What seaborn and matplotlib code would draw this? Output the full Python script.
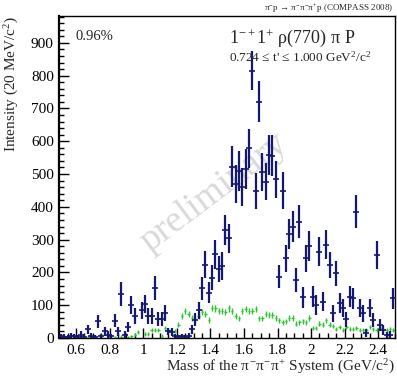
import matplotlib
matplotlib.use("Agg")
import matplotlib.pyplot as plt
import matplotlib.ticker as mticker
import pandas as pd
import seaborn as sns

# blue: 1-+1+ rho(770) pi P wave intensity
blue_mass = [0.51, 0.53, 0.55, 0.57, 0.59, 0.61, 0.63, 0.65, 0.67, 0.69,
             0.71, 0.73, 0.75, 0.77, 0.79, 0.81, 0.83, 0.85, 0.87, 0.89,
             0.91, 0.93, 0.95, 0.99, 1.01, 1.03, 1.05, 1.07, 1.09, 1.11,
             1.13, 1.15, 1.17, 1.19, 1.21, 1.23, 1.25, 1.27, 1.29, 1.31,
             1.33, 1.35, 1.37, 1.39, 1.41, 1.43, 1.45, 1.47, 1.49, 1.51,
             1.53, 1.55, 1.57, 1.59, 1.61, 1.63, 1.65, 1.67, 1.69, 1.71,
             1.73, 1.75, 1.77, 1.79, 1.81, 1.83, 1.85, 1.87, 1.89, 1.91,
             1.93, 1.95, 1.97, 1.99, 2.01, 2.03, 2.05, 2.07, 2.09, 2.11,
             2.13, 2.15, 2.17, 2.19, 2.21, 2.23, 2.25, 2.27, 2.29, 2.31,
             2.33, 2.35, 2.37, 2.39, 2.41, 2.43, 2.45, 2.47, 2.49]
blue_val = [5, 4, 3, 7, 5, 3, 10, 4, 27, 7,
            3, 51, 5, 20, 10, 5, 53, 20, 135, 10,
            34, 100, 68, 85, 104, 68, 68, 153, 58, 58,
            76, 20, 17, 5, 3, 5, 3, 7, 27, 56,
            85, 151, 224, 138, 184, 255, 210, 220, 329, 304,
            523, 470, 509, 460, 515, 578, 815, 448, 721, 505,
            477, 558, 556, 484, 187, 449, 243, 317, 340, 177,
            355, 124, 243, 280, 126, 101, 263, 111, 284, 223,
            75, 197, 106, 91, 57, 126, 121, 385, 91, 76,
            15, 91, 55, 253, 40, 25, 8, 10, 121]
blue_err = [8, 8, 6, 9, 8, 6, 10, 7, 14, 9,
            6, 19, 8, 13, 10, 8, 19, 13, 36, 10,
            16, 28, 24, 26, 28, 24, 24, 36, 20, 20,
            24, 12, 12, 8, 6, 8, 6, 8, 14, 20,
            26, 34, 40, 32, 38, 44, 40, 42, 45, 45,
            64, 58, 60, 58, 60, 60, 60, 55, 62, 58,
            56, 62, 62, 56, 36, 56, 42, 46, 48, 38,
            50, 32, 42, 46, 32, 30, 44, 30, 44, 40,
            26, 38, 30, 28, 22, 32, 32, 50, 28, 26,
            12, 28, 22, 44, 18, 15, 10, 10, 32]

# green: second curve (lower intensity)
green_mass = [0.51, 0.55, 0.59, 0.63, 0.67, 0.71, 0.75, 0.79, 0.83, 0.87,
              0.91, 0.93, 0.95, 0.97, 1.01, 1.03, 1.05, 1.07, 1.09, 1.11,
              1.13, 1.15, 1.17, 1.19, 1.21, 1.23, 1.25, 1.27, 1.29, 1.31,
              1.33, 1.35, 1.37, 1.39, 1.41, 1.43, 1.45, 1.47, 1.49, 1.51,
              1.53, 1.55, 1.57, 1.59, 1.61, 1.63, 1.65, 1.67, 1.69, 1.71,
              1.73, 1.75, 1.77, 1.79, 1.81, 1.83, 1.85, 1.87, 1.89, 1.91,
              1.93, 1.95, 1.97, 1.99, 2.01, 2.03, 2.05, 2.07, 2.09, 2.11,
              2.13, 2.15, 2.17, 2.19, 2.21, 2.23, 2.25, 2.27, 2.29, 2.31,
              2.33, 2.35, 2.37, 2.39, 2.41, 2.43, 2.45, 2.47, 2.49]
green_val = [2, 2, 3, 2, 3, 2, 3, 2, 3, 4,
             3, 5, 10, 17, 12, 12, 23, 23, 25, 7,
             30, 23, 13, 20, 41, 66, 82, 74, 60, 58,
             66, 78, 73, 55, 91, 90, 83, 83, 78, 90,
             81, 66, 60, 83, 89, 83, 83, 89, 60, 60,
             74, 71, 71, 61, 54, 48, 51, 61, 61, 44,
             48, 51, 48, 61, 31, 31, 44, 41, 54, 41,
             36, 27, 34, 25, 34, 27, 27, 31, 23, 25,
             25, 34, 27, 25, 31, 25, 25, 27, 23]
green_err = [3, 3, 3, 3, 3, 3, 3, 3, 3, 4,
             4, 4, 5, 6, 5, 5, 6, 6, 6, 4,
             7, 6, 5, 6, 8, 9, 10, 9, 9, 9,
             9, 9, 9, 8, 10, 10, 9, 9, 9, 10,
             9, 9, 8, 9, 10, 9, 9, 10, 8, 8,
             9, 9, 9, 8, 8, 8, 8, 8, 8, 7,
             7, 8, 7, 8, 6, 6, 7, 7, 8, 7,
             7, 6, 6, 6, 6, 6, 6, 6, 6, 6,
             6, 6, 6, 6, 6, 6, 6, 6, 6]

x_ticks = [0.6, 0.8, 1.0, 1.2, 1.4, 1.6, 1.8, 2.0, 2.2, 2.4]
x_labels = ["0.6", "0.8", "1", "1.2", "1.4", "1.6", "1.8", "2", "2.2", "2.4"]

BLUE = "#14186e"
GREEN = "#2fc42f"

sns.set_style("ticks")
plt.rcParams["font.family"] = ["Liberation Serif", "DejaVu Serif"]
# upright Times-like maths, like ROOT's TLatex
plt.rcParams["mathtext.fontset"] = "custom"
plt.rcParams["mathtext.rm"] = "Liberation Serif"
plt.rcParams["mathtext.it"] = "Liberation Serif"
plt.rcParams["mathtext.bf"] = "Liberation Serif:bold"

df_blue = pd.DataFrame({"mass": blue_mass, "intensity": blue_val, "err": blue_err})
df_green = pd.DataFrame({"mass": green_mass, "intensity": green_val, "err": green_err})

fig = plt.figure(figsize=(3.97, 3.78), dpi=100)
ax = fig.add_axes([0.1494, 0.1058, 0.8456, 0.8519])

# green points
ax.errorbar(df_green["mass"], df_green["intensity"], yerr=df_green["err"], xerr=0.007,
            fmt="none", ecolor=GREEN, elinewidth=1.0, capsize=0)
# blue points
ax.errorbar(df_blue["mass"], df_blue["intensity"], yerr=df_blue["err"],
            fmt="none", ecolor=BLUE, elinewidth=1.6, capsize=0)
sns.scatterplot(data=df_blue, x="mass", y="intensity", marker="_", s=14,
                color=BLUE, linewidth=1.2, ax=ax, zorder=5)

ax.set_xlim(0.5, 2.5)
ax.set_ylim(0, 982)
ax.set_xticks(x_ticks)
ax.set_xticklabels(x_labels)
ax.xaxis.set_minor_locator(mticker.MultipleLocator(0.05))
ax.yaxis.set_major_locator(mticker.MultipleLocator(100))
ax.yaxis.set_minor_locator(mticker.MultipleLocator(20))
ax.tick_params(which="both", direction="in", top=False, right=False,
               labelsize=11, width=1.0, colors="black")
ax.tick_params(which="major", length=7, pad=4)
ax.tick_params(which="minor", length=3.5)
for s in ax.spines.values():
    s.set_linewidth(1.0)
    s.set_color("black")
ax.spines["left"].set_linewidth(1.6)

ax.set_xlabel(r"Mass of the $\pi^{-}\pi^{-}\pi^{+}$ System (GeV/c$^{2}$)",
              fontsize=11, loc="right", labelpad=1)
ax.set_ylabel(r"Intensity (20 MeV/c$^{2}$)", fontsize=11, loc="top", labelpad=7)

ax.text(0.048, 0.955, "0.96%", transform=ax.transAxes, fontsize=10.5, va="top")
ax.text(0.505, 0.965, r"1$^{-+}$1$^{+}$ ρ(770) π P", transform=ax.transAxes,
        fontsize=13, va="top")
ax.text(0.505, 0.893, r"0.724 ≤ t' ≤ 1.000 GeV$^{2}$/c$^{2}$",
        transform=ax.transAxes, fontsize=9.5, va="top")
fig.text(0.99, 0.995, r"$\pi^{-}$p → $\pi^{-}\pi^{-}\pi^{+}$p (COMPASS 2008)",
         fontsize=6.5, ha="right", va="top")
ax.text(0.461, 0.45, "preliminary", transform=ax.transAxes, fontsize=27,
        color="#d9d9d9", rotation=37, ha="center", va="center", zorder=0)

fig.savefig("out.png", dpi=100)
